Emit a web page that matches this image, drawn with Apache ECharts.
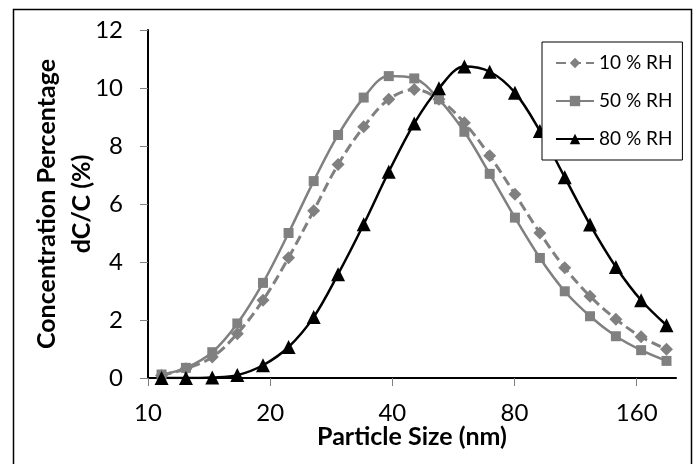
<!DOCTYPE html>
<html>
<head>
<meta charset="utf-8">
<script src="https://cdn.jsdelivr.net/npm/echarts@6/dist/echarts.min.js"></script>
<style>html,body{margin:0;padding:0;background:#fff;}#c{width:699px;height:464px;}</style>
</head>
<body>
<div id="c"></div>
<script>
// Particle sizes (nm) for each bin
const sizes = [10.8, 12.4, 14.4, 16.6, 19.2, 22.2, 25.6, 29.4, 34.0, 39.2, 45.3, 52.1, 60.2, 69.5, 80.2, 92.4, 106.4, 122.8, 142.2, 164.1, 189.5];
const rh10 = [0.09, 0.32, 0.72, 1.53, 2.68, 4.15, 5.77, 7.36, 8.66, 9.61, 9.95, 9.61, 8.80, 7.66, 6.34, 5.00, 3.80, 2.82, 2.03, 1.42, 0.99];
const rh50 = [0.12, 0.35, 0.89, 1.88, 3.28, 5.00, 6.79, 8.38, 9.67, 10.41, 10.33, 9.61, 8.49, 7.04, 5.53, 4.14, 2.99, 2.13, 1.44, 0.96, 0.59];
const rh80 = [0.00, 0.00, 0.02, 0.10, 0.44, 1.07, 2.10, 3.58, 5.30, 7.11, 8.78, 9.99, 10.74, 10.56, 9.84, 8.52, 6.92, 5.29, 3.83, 2.68, 1.82];
const seriesNames = ['10 % RH', '50 % RH', '80 % RH'];
const xTickLabels = [10, 20, 40, 80, 160];
const xMin = 10, xMax = 200;
const yMin = 0, yMax = 12, yStep = 2;

// base-2 logarithmic position relative to xMin (one unit = one doubling)
const lg = v => Math.log2(v / xMin);
const pts = arr => sizes.map((s, i) => [lg(s), arr[i]]);

const FONT = 'Lato, "Open Sans", sans-serif';
const gray = '#808080';

const chart = echarts.init(document.getElementById('c'), null, {renderer: 'canvas'});
chart.setOption({
  animation: false,
  backgroundColor: '#fff',
  textStyle: {fontFamily: FONT},
  grid: {left: 148, right: 23, top: 30, bottom: 86, containLabel: false},
  graphic: [{
    type: 'rect', left: 11, top: 7, z: -10,
    shape: {width: 678, height: 470},
    style: {fill: 'none', stroke: '#000', lineWidth: 1.5}
  }],
  legend: {
    orient: 'vertical', left: 542, top: 42,
    padding: [10, 10, 10, 13],
    borderColor: '#000', borderWidth: 1, backgroundColor: '#fff',
    itemWidth: 38, itemHeight: 13, itemGap: 16,
    textStyle: {fontSize: 19, lineHeight: 22, color: '#000', fontFamily: FONT},
    data: seriesNames
  },
  xAxis: [{
    type: 'value', min: lg(xMin), max: lg(xMax), interval: 1,
    name: 'Particle Size (nm)', nameLocation: 'middle', nameGap: 46, nameMoveOverlap: false,
    nameTextStyle: {fontSize: 25, fontWeight: 'bold', color: '#000', fontFamily: FONT},
    axisLine: {lineStyle: {color: gray, width: 1.5}},
    axisTick: {show: true, inside: false, length: 8, lineStyle: {color: gray, width: 1}},
    axisLabel: {
      fontSize: 24, color: '#000', margin: 23, showMaxLabel: false,
      formatter: v => {
        const k = Math.round(v);
        return Math.abs(v - k) < 1e-6 && xTickLabels[k] !== undefined ? String(xTickLabels[k]) : '';
      }
    },
    splitLine: {show: false}
  }, {
    type: 'value', position: 'top', min: lg(xMin), max: lg(xMax),
    axisLine: {show: true, lineStyle: {color: '#000', width: 2}},
    axisTick: {show: false}, axisLabel: {show: false}, splitLine: {show: false}
  }],
  yAxis: [{
    type: 'value', min: yMin, max: yMax, interval: yStep,
    name: 'Concentration Percentage\ndC/C (%)', nameLocation: 'middle', nameGap: 49, nameMoveOverlap: false,
    nameTextStyle: {fontSize: 25, fontWeight: 'bold', color: '#000', lineHeight: 35, fontFamily: FONT},
    axisLine: {show: true, lineStyle: {color: gray, width: 1.5}},
    axisTick: {show: true, inside: false, length: 8, lineStyle: {color: gray, width: 1}},
    axisLabel: {fontSize: 24, color: '#000', margin: 25},
    splitLine: {show: false}
  }, {
    type: 'value', position: 'right', min: yMin, max: yMax,
    axisLine: {show: true, lineStyle: {color: '#000', width: 2}},
    axisTick: {show: false}, axisLabel: {show: false}, splitLine: {show: false}
  }],
  series: [{
    name: seriesNames[0], type: 'line', data: pts(rh10), smooth: 0.35,
    symbol: 'diamond', symbolSize: 13,
    lineStyle: {color: gray, width: 3, type: [10, 5]},
    itemStyle: {color: gray}
  }, {
    name: seriesNames[1], type: 'line', data: pts(rh50), smooth: 0.35,
    symbol: 'rect', symbolSize: 10,
    lineStyle: {color: gray, width: 2.5},
    itemStyle: {color: gray}
  }, {
    name: seriesNames[2], type: 'line', data: pts(rh80), smooth: 0.35,
    symbol: 'triangle', symbolSize: 14,
    lineStyle: {color: '#000', width: 2.5},
    itemStyle: {color: '#000'}
  }]
});
</script>
</body>
</html>
